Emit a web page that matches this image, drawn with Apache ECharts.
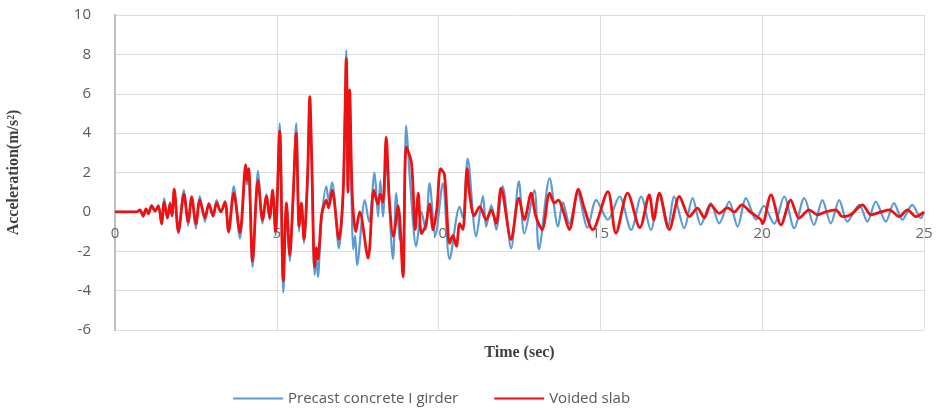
<!DOCTYPE html>
<html><head><meta charset="utf-8">
<script src="https://cdn.jsdelivr.net/npm/echarts@6/dist/echarts.min.js"></script>
<style>html,body{margin:0;padding:0;background:#fff}#c{width:938px;height:410px}</style>
</head><body><div id="c"></div>
<script>
// Turning points (time in sec, acceleration in m/s²)
var girderTime = [0,0.67,0.77,0.87,0.96,1.03,1.13,1.24,1.34,1.44,1.52,1.62,1.70,1.76,1.83,1.96,2.13,2.26,2.37,2.50,2.62,2.78,2.90,3.03,3.14,3.27,3.40,3.51,3.67,3.86,4.04,4.08,4.13,4.25,4.42,4.56,4.68,4.78,4.87,4.96,5.09,5.20,5.30,5.40,5.50,5.60,5.69,5.76,5.84,5.95,6.02,6.08,6.17,6.22,6.27,6.38,6.53,6.60,6.71,6.92,7.05,7.15,7.20,7.25,7.36,7.42,7.48,7.72,7.85,8.02,8.13,8.20,8.28,8.38,8.59,8.69,8.80,8.90,9.00,9.12,9.31,9.47,9.60,9.72,9.90,10.13,10.34,10.65,10.75,10.90,11.16,11.37,11.47,11.63,11.78,11.98,12.24,12.48,12.65,12.96,13.10,13.43,13.69,13.84,14.04,14.30,14.60,14.87,15.23,15.59,15.95,16.26,16.56,16.82,17.08,17.28,17.59,17.85,18.10,18.41,18.67,18.98,19.24,19.50,19.81,20.05,20.37,20.68,20.99,21.30,21.60,21.86,22.12,22.38,22.63,23.00,23.25,23.51,23.82,24.07,24.33,24.64,24.90,25.0];
var girderAcc = [0,0,0.1,-0.25,0.15,-0.1,0.35,0.05,0.35,-0.65,0.7,-0.35,0.5,-0.2,1.1,-1.1,1.1,-0.7,0.8,-0.85,0.8,-0.5,0.45,-0.25,0.6,0.0,0.55,-1.05,1.3,-1.35,2.0,1.4,1.8,-2.8,2.1,-0.6,0.9,-0.4,1.1,-1.2,4.5,-4.1,0.45,-2.5,0.6,4.5,-1.0,0.4,-1.6,1.5,5.6,2.4,-3.2,-2.2,-3.3,-0.4,1.3,0.6,1.5,-1.85,1.0,8.2,1.0,6.0,-1.9,-1.2,-2.7,0.6,-0.5,2.0,-0.24,1.6,-0.24,2.6,-2.4,0.95,-1.4,-1.5,4.4,1.5,-1.75,0.0,-0.9,1.45,-1.2,1.45,-2.4,0.27,-0.3,2.7,-1.25,0.8,-0.75,0.35,-0.9,1.3,-1.85,1.55,-1.1,1.1,-1.9,1.7,-0.75,0.5,-0.6,0.95,-0.8,0.6,-0.4,0.78,-0.92,0.78,-0.92,0.86,-0.83,0.78,-0.83,0.7,-0.66,0.44,-0.58,0.52,-0.75,0.7,-0.4,0.3,-0.6,0.78,-0.83,0.7,-0.66,0.6,-0.58,0.6,-0.5,0.36,-0.5,0.52,-0.5,0.44,-0.4,0.36,-0.32,0.0];

var slabTime = [0,0.67,0.77,0.87,0.96,1.03,1.13,1.24,1.34,1.44,1.52,1.62,1.70,1.76,1.83,1.96,2.13,2.26,2.37,2.50,2.62,2.78,2.90,3.03,3.14,3.27,3.40,3.51,3.67,3.86,4.04,4.08,4.13,4.25,4.42,4.56,4.68,4.78,4.87,4.96,5.09,5.20,5.30,5.40,5.50,5.60,5.69,5.76,5.84,5.95,6.02,6.08,6.17,6.22,6.27,6.38,6.45,6.53,6.60,6.71,6.92,7.05,7.15,7.20,7.25,7.33,7.44,7.56,7.82,8.00,8.12,8.20,8.28,8.38,8.48,8.60,8.75,8.90,9.00,9.16,9.28,9.37,9.47,9.60,9.72,9.83,9.95,10.06,10.18,10.34,10.44,10.55,10.65,10.75,10.88,10.95,11.10,11.27,11.47,11.63,11.78,11.93,12.24,12.48,12.65,12.86,13.00,13.20,13.43,13.58,13.70,13.84,14.04,14.32,14.50,14.76,15.23,15.48,15.84,16.22,16.51,16.65,16.82,17.13,17.44,17.75,18.00,18.21,18.41,18.67,18.93,19.14,19.37,19.63,19.96,20.01,20.27,20.58,20.88,21.14,21.45,21.71,21.96,22.27,22.48,22.73,23.10,23.36,23.67,23.93,24.23,24.49,24.75,25.0];
var slabAcc = [0,0,0.1,-0.2,0.15,-0.1,0.3,0.05,0.3,-0.6,0.5,-0.3,0.4,-0.2,1.15,-1.0,0.9,-0.5,0.75,-0.6,0.6,-0.3,0.4,-0.2,0.45,0.0,0.5,-1.0,0.95,-1.05,2.4,1.6,2.2,-2.5,1.6,-0.4,0.8,-0.3,1.1,-1.0,4.1,-3.5,0.45,-2.2,0.6,4.0,-0.75,0.45,-1.4,1.8,5.85,2.6,-2.8,-1.8,-2.4,-0.2,0.3,0.6,0.2,1.1,-1.4,1.0,7.8,1.0,6.2,0.9,-1.0,0.0,-2.35,1.1,0.4,0.9,0.5,3.8,0.5,-1.25,0.3,-3.3,3.3,2.5,-0.9,0.95,-1.1,-0.7,0.4,-0.9,0.2,2.2,1.9,-1.6,-1.2,-1.75,-0.6,-0.9,2.2,1.0,-0.2,0.27,-0.4,0.1,-0.58,1.2,-1.4,0.7,-0.4,0.95,-0.2,-0.9,0.95,0.45,0.6,0.1,-0.9,1.15,0.2,-0.9,1.03,-1.08,0.95,-0.8,0.86,-0.4,0.95,-0.9,0.78,-0.24,0.19,-0.3,0.36,-0.07,0.2,0.0,0.36,0.0,-0.4,-0.6,0.86,-0.66,0.6,-0.32,0.1,-0.15,0.0,0.1,-0.24,-0.15,0.36,-0.15,0.0,0.1,-0.24,0.1,-0.24,0.0];

var seriesNames = ['Precast concrete I girder', 'Voided slab'];
var yTicks = {min: -6, max: 10, step: 2};
var xTicks = {min: 0, max: 25, step: 5};

function pairs(t, v) { return t.map(function (x, i) { return [x, v[i]]; }); }

var chart = echarts.init(document.getElementById('c'), null, {renderer: 'canvas'});
chart.setOption({
  animation: false,
  backgroundColor: '#fff',
  grid: {left: 115, right: 14, top: 15, bottom: 80, outerBoundsMode: 'none'},
  legend: {
    data: seriesNames, left: 228, top: 386, icon: 'rect', itemWidth: 50, itemHeight: 2, itemGap: 36,
    textStyle: {color: '#595959', fontSize: 15, fontFamily: 'Open Sans'}
  },
  xAxis: {
    type: 'value', min: xTicks.min, max: xTicks.max, interval: xTicks.step,
    offset: -118,
    name: 'Time (sec)', nameLocation: 'middle', nameGap: 133,
    nameTextStyle: {fontFamily: 'Liberation Serif', fontWeight: 'bold', fontSize: 16, color: '#404040'},
    axisLine: {show: true, onZero: false, lineStyle: {color: '#d9d9d9', width: 1}},
    axisTick: {show: false},
    axisLabel: {color: '#666', fontSize: 15, margin: 14, fontFamily: 'Open Sans'},
    splitLine: {show: true, lineStyle: {color: '#dcdcdc', width: 1}}
  },
  yAxis: {
    type: 'value', min: yTicks.min, max: yTicks.max, interval: yTicks.step,
    name: 'Acceleration(m/s²)', nameLocation: 'middle', nameGap: 93, nameRotate: 90,
    nameTextStyle: {fontFamily: 'Liberation Serif', fontWeight: 'bold', fontSize: 16, color: '#404040'},
    axisLine: {show: true, onZero: false, lineStyle: {color: '#bfbfbf', width: 2}},
    axisTick: {show: false},
    axisLabel: {color: '#595959', fontSize: 15, margin: 24, fontFamily: 'Open Sans'},
    splitLine: {show: true, lineStyle: {color: '#dcdcdc', width: 1}}
  },
  series: [
    {name: seriesNames[0], type: 'line', data: pairs(girderTime, girderAcc), showSymbol: false, symbol: 'none',
     smooth: 0.3, lineStyle: {color: '#5b9bd5', width: 2.2}, itemStyle: {color: '#5b9bd5'}, z: 2},
    {name: seriesNames[1], type: 'line', data: pairs(slabTime, slabAcc), showSymbol: false, symbol: 'none',
     smooth: 0.3, lineStyle: {color: '#ee1111', width: 2.8}, itemStyle: {color: '#ee1111'}, z: 3}
  ]
});
</script>
</body></html>
